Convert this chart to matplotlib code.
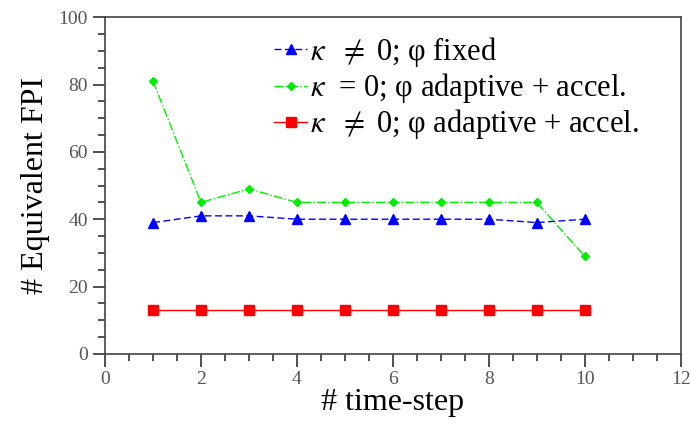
import matplotlib
matplotlib.use('Agg')
import matplotlib.pyplot as plt
from matplotlib.ticker import MultipleLocator

steps = [1, 2, 3, 4, 5, 6, 7, 8, 9, 10]
fpi_fixed = [39, 41, 41, 40, 40, 40, 40, 40, 39, 40]
fpi_k0_adaptive = [81, 45, 49, 45, 45, 45, 45, 45, 45, 29]
fpi_adaptive = [13, 13, 13, 13, 13, 13, 13, 13, 13, 13]

labels = [r'$\kappa$  $\neq$ 0; φ fixed',
          r'$\kappa$  = 0; φ adaptive + accel.',
          r'$\kappa$  $\neq$ 0; φ adaptive + accel.']

plt.rcParams['font.family'] = ['Liberation Serif', 'DejaVu Serif']
plt.rcParams['mathtext.fontset'] = 'stix'

fig = plt.figure(figsize=(6.91, 4.29), dpi=100)
ax = fig.add_axes([0.152, 0.175, 0.833, 0.785])

ax.plot(steps, fpi_fixed, color='#0000ff', linestyle='--', dashes=(5, 2.5),
        marker='^', markersize=7, linewidth=1, label=labels[0])
ax.plot(steps, fpi_k0_adaptive, color='#00ee00', linestyle='-.',
        marker='D', markersize=4.5, linewidth=1, label=labels[1])
ax.plot(steps, fpi_adaptive, color='#ff0000', linestyle='-',
        marker='s', markersize=7, linewidth=1, label=labels[2])

ax.set_xlim(0, 12)
ax.set_ylim(0, 100)
ax.xaxis.set_major_locator(MultipleLocator(2))
ax.xaxis.set_minor_locator(MultipleLocator(0.5))
ax.yaxis.set_major_locator(MultipleLocator(20))
ax.yaxis.set_minor_locator(MultipleLocator(5))
ax.tick_params(which='both', direction='out', top=False, right=False,
               colors='#333333', labelcolor='#555555')
ax.tick_params(which='major', length=9, width=1.2, labelsize=14)
ax.tick_params(which='minor', length=5, width=1.2)
for s in ax.spines.values():
    s.set_color('#444444')
    s.set_linewidth(1.2)

ax.set_xlabel('# time-step', fontsize=23, labelpad=0)
ax.set_ylabel('# Equivalent FPI', fontsize=23, labelpad=6)

leg = ax.legend(loc='upper right', bbox_to_anchor=(0.965, 1.01), frameon=False,
                fontsize=22, handlelength=1.1, handletextpad=0.1,
                labelspacing=0.07, borderaxespad=0.3)

fig.savefig('out.png', dpi=100)
